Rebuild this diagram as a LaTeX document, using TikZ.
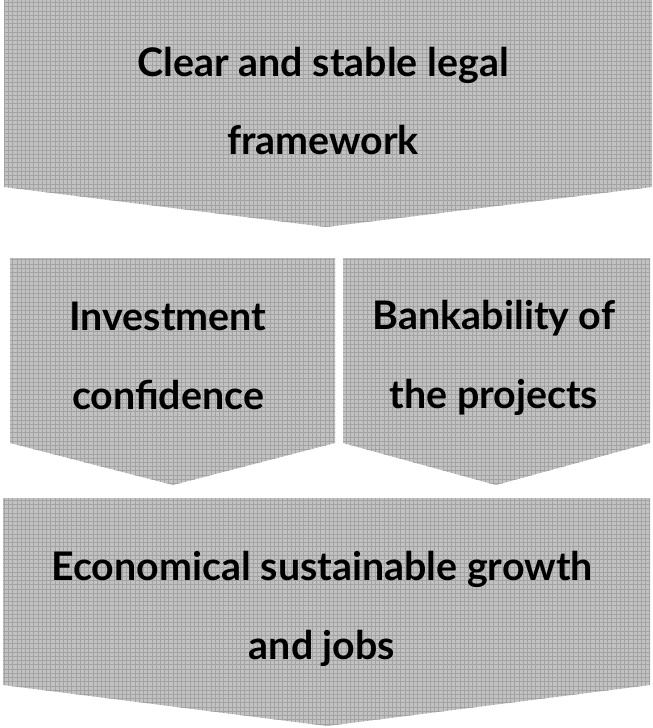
\documentclass[tikz,border=0pt]{standalone}
\usepackage{fontspec}
\setmainfont{Lato}
\usetikzlibrary{patterns}

\tikzset{
  chev/.style={fill=black!24, postaction={pattern=grid, pattern color=black!36}},
  lbl/.style={align=center, font=\fontsize{28}{56}\selectfont\bfseries, inner sep=0pt}
}

\begin{document}
\begin{tikzpicture}[x=0.025cm, y=-0.025cm]
        \useasboundingbox (0,0) rectangle (652,728);
        % top chevron
        \fill[chev] (4,0) -- (652,0) -- (652,187) -- (326,227) -- (4,187) -- cycle;
        % middle chevrons
        \fill[chev] (10,258) -- (335,258) -- (335,443) -- (173,485) -- (10,443) -- cycle;
        \fill[chev] (343,258) -- (650,258) -- (650,443) -- (496,485) -- (343,443) -- cycle;
        % bottom chevron
        \fill[chev] (3,498) -- (650,498) -- (650,685) -- (327,726) -- (3,685) -- cycle;
        % texts
        \node[lbl] (legal) at (323,101) {Clear and stable legal\\framework};
        \node[lbl] (invest) at (168,356) {Investment\\confidence};
        \node[lbl] (bank) at (494,358) {Bankability of\\the projects};
        \node[lbl] (growth) at (322,609) {Economical sustainable growth\\and jobs};
\end{tikzpicture}
\end{document}
